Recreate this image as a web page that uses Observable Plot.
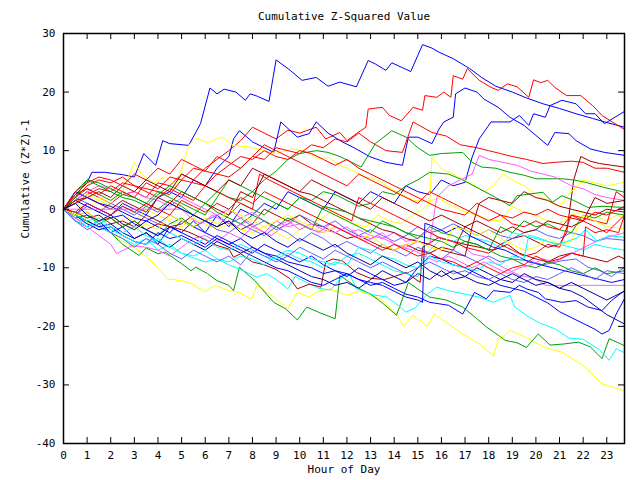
<!DOCTYPE html>
<html>
<head>
<meta charset="utf-8">
<script src="https://cdn.jsdelivr.net/npm/d3@7"></script>
<script src="https://cdn.jsdelivr.net/npm/@observablehq/plot@0.6"></script>
<style>
  html, body { margin: 0; padding: 0; background: #ffffff; }
  #chart svg { display: block; }
</style>
</head>
<body>
<div id="chart"></div>
<script>
// ---- Labels and ticks ----
const titleText = "Cumulative Z-Squared Value";
const xLabel = "Hour of Day";
const yLabel = "Cumulative (Z*Z)-1";
const xTicks = [0,1,2,3,4,5,6,7,8,9,10,11,12,13,14,15,16,17,18,19,20,21,22,23];
const yTicks = [-40,-30,-20,-10,0,10,20,30];

// ---- Colours ----
const BLUE = "#0000ff", DKBLUE = "#0000a0", PERI = "#6060ff", RED = "#ff0000", DKRED = "#a00000",
      GREEN = "#00a000", YELLOW = "#ffff00", MAGENTA = "#ff5aff", CYAN = "#00ffff";

// ---- Series: [hour, cumulative value] ----
const s01 = [[0,0],[0.5,2.5],[1,4.5],[1.2,6.3],[1.75,6.3],[2.5,5.9],[3,5.5],[3.4,9.5],[3.9,7.5],[4.2,11.7],[4.5,11.2],[5.3,10.9],[5.8,14.6],[6.2,20.7],[6.5,19.7],[6.8,20.5],[7.3,20],[7.7,18.6],[7.9,19.7],[8.2,19.3],[8.7,18.4],[9,25.5],[9.6,23.7],[10.1,22],[10.7,22.5],[11.2,21],[11.7,21.7],[12.4,20.9],[12.9,25.4],[13.2,24.8],[13.65,23.7],[13.9,25],[14.7,23.5],[15.2,28.1],[15.6,27.5],[15.9,26.8],[16.5,25.7],[17.2,24],[17.7,22.5],[18.3,21],[19,20],[19.6,19],[20.3,18],[21,17.2],[21.7,16.3],[22.4,15.5],[23,14.8],[23.75,14]];
const s02 = [[0,0],[0.5,1.5],[1,3],[1.5,2],[2,1],[2.5,2.5],[3,3],[3.5,2],[4,4.5],[4.5,4],[5,6],[5.5,5],[6,7],[6.5,8.5],[7,10],[7.5,11.7],[8,14],[8.5,13],[9,12],[9.5,13.5],[10,13],[10.7,14],[11.1,12],[11.7,13.1],[12,11.7],[12.4,12.9],[12.8,14],[12.9,17.1],[13.5,17.4],[13.8,16],[14.3,15.1],[14.8,17.4],[15.2,16.9],[15.3,19.4],[15.8,19.1],[16.1,20],[16.4,19.1],[16.5,22.8],[16.9,22.2],[17.1,24],[17.6,22],[18.1,20.8],[18.4,20.3],[18.8,21.4],[19.2,20.9],[19.7,19.1],[19.9,22.1],[20.2,21.6],[20.5,22],[20.8,20.8],[21.3,19.4],[21.9,19.4],[22.4,17.7],[22.8,16],[23.75,13.6]];
const s03 = [[0,0],[0.5,-1],[1,1],[1.5,0],[2,-1],[2.5,1],[3,0],[3.5,-1],[4,2],[4.5,3],[5,2],[5.5,5],[6,4],[6.5,7],[7,9],[7.2,12],[7.45,13.4],[8,11.5],[8.9,9.7],[9.2,14.9],[9.9,12.3],[10.4,12.9],[10.7,14.9],[11.2,13],[11.8,11.5],[12.3,10.5],[12.95,9],[13.65,8],[14.35,7.5],[14.6,12.3],[15,12.3],[15.6,11.2],[15.9,13.7],[16.1,14.9],[16.5,15.7],[16.6,19.7],[17,20.7],[17.5,20],[17.8,18.8],[18.4,17.4],[18.9,15.7],[19.5,14.3],[20,12.6],[20.5,10.9],[20.8,13.1],[21.4,12.9],[21.7,11.7],[22.3,10.3],[22.9,9.7],[23.75,9.2]];
const s04 = [[0,0],[0.5,-2],[1,-3],[1.5,-2],[2,-4],[2.5,-3],[3,-5],[3.5,-4],[4,-6],[4.5,-3],[5,-4],[5.5,-2],[6,-4],[6.5,-1],[7,-3],[7.5,0],[8,-1],[8.5,1],[9,0],[9.5,3],[10,2],[10.5,1],[11,0],[11.5,3],[12,2],[12.5,1],[13,3],[13.5,2],[14,1],[14.5,4],[15,3],[15.5,2.5],[16,5],[16.5,4],[17,4.6],[17.3,8.9],[17.6,12],[18.1,14.9],[18.9,14.9],[19.3,16],[19.7,14.3],[19.9,16.3],[20.4,15.7],[20.6,17.7],[21.1,18.6],[21.7,18],[22.1,16.3],[22.5,16.3],[22.9,14.6],[23.75,16.7]];
const s05 = [[0,0],[0.5,1],[1,0],[1.5,2],[2,1],[2.5,3],[3,8],[3.3,6],[3.8,4.5],[4.3,5.5],[4.8,4],[5.3,10.9],[5.6,12.1],[6.1,11.4],[6.7,12.3],[7.2,10.9],[7.9,10.6],[8.2,10.3],[9,9.5],[9.7,10.3],[10.3,9.8],[10.8,8.6],[11.2,8.9],[11.7,7.5],[12.3,6.5],[12.8,5.5],[13.3,5],[13.65,4],[14.2,2.8],[14.8,1.5],[15.3,1.3],[15.9,1.8],[16.5,0.5],[17,-0.5],[17.5,-1],[18,-1.8],[18.5,-2],[19,0.5],[19.5,-0.5],[20,-1],[20.5,-2],[21,-2.5],[21.5,-1],[22,-0.5],[22.5,-1],[23,-2],[23.4,-1],[23.75,-1.5]];
const s06 = [[0,0],[0.5,-1],[1,-2.2],[1.5,-3],[2,-4],[2.5,-5.5],[3,-6.5],[3.7,-8.8],[4.4,-11.9],[5,-12.2],[5.4,-12.7],[6,-14.1],[6.4,-13],[7,-13.9],[7.45,-14.2],[7.95,-15.4],[8.2,-13],[8.9,-15],[9.5,-17],[9.9,-14.2],[10.4,-15],[10.8,-14],[11.3,-13.6],[12,-14.7],[12.5,-14],[13,-14.6],[13.5,-15.5],[14.1,-17.9],[14.4,-20],[14.8,-18.1],[15.4,-20],[15.7,-17.9],[16.3,-19.6],[16.9,-21.3],[17.6,-23],[18.2,-25],[18.4,-22.4],[18.9,-20.7],[19.6,-21.9],[20.3,-23.5],[21.1,-24.4],[22,-26.7],[22.8,-29.8],[23.75,-31]];
const s07 = [[0,0],[0.5,-1],[1,-2],[1.5,-3],[2,-4],[2.5,-6],[3.2,-7.9],[3.5,-6.6],[4,-7.6],[4.3,-7.3],[5,-9.3],[5.4,-10.5],[5.6,-9.9],[6.1,-11],[6.5,-12.2],[7,-13],[7.2,-13.9],[7.45,-9.9],[8.1,-12.2],[8.9,-15.9],[9.4,-17],[9.9,-18.9],[10.3,-16.7],[10.8,-17.6],[11.5,-18.7],[11.7,-11.3],[12.4,-13.3],[13,-14.5],[13.5,-16],[14.1,-18.1],[14.6,-12.5],[15.1,-13.9],[15.5,-15],[16.2,-15.5],[16.9,-16.7],[17.5,-18.7],[17.9,-20.1],[18.4,-21.5],[18.7,-22.4],[19.2,-22.8],[19.6,-23.6],[20.1,-21.3],[20.6,-23.2],[21.2,-23],[21.8,-22.7],[22.3,-23.5],[22.8,-25.5],[23.1,-22.1],[23.75,-23.3]];
const s08 = [[0,0],[0.5,-1.5],[1,-2.5],[1.5,-3],[2,-4],[2.5,-5],[3,-6],[3.5,-5],[4,-7],[4.5,-6],[5,-7.5],[5.4,-8.2],[6,-9],[6.5,-8.5],[7,-9.5],[7.45,-10.2],[8.2,-11.6],[8.6,-11],[9,-12],[9.5,-13.6],[9.8,-11.5],[10.3,-12.5],[10.8,-13.5],[11.3,-13.8],[11.8,-11.5],[12.1,-11],[12.4,-13.6],[13.1,-14.6],[13.7,-15],[14.2,-16.5],[14.5,-17.6],[14.9,-16.8],[15.4,-14.5],[15.8,-13.3],[16.3,-13.9],[17,-14.5],[17.6,-15],[18.2,-15.9],[18.9,-14.7],[19.1,-16.7],[19.7,-18.4],[20.2,-19.5],[20.8,-20.4],[21.4,-22],[22,-22.2],[22.7,-24],[23.1,-25.8],[23.4,-23.8],[23.75,-24.5]];
const s09 = [[0,0],[0.5,-1],[1,-0.5],[1.5,-2],[2,-1.5],[2.5,-3],[3,-2],[3.5,-3.5],[4,-2.5],[4.5,-3],[5,-3.5],[5.3,-3.9],[6,-5.2],[6.5,-6.2],[7,-6.8],[7.2,-8.2],[7.5,-7.6],[8,-9],[8.5,-9.5],[9,-10.3],[9.6,-11.9],[9.9,-13.6],[10.4,-12.8],[10.9,-13.3],[11.1,-9],[11.4,-8.5],[11.8,-8.8],[12.4,-10.8],[13,-11.8],[13.6,-12],[14,-11.5],[14.5,-10.8],[15.1,-12.5],[15.2,-6.5],[15.9,-4.8],[16.5,-5.5],[17,-6],[17.6,-6.5],[18.2,-7],[18.8,-6],[19.3,-7.5],[20,-8.5],[20.5,-9],[21,-8],[21.5,-7.5],[22,-8],[22.5,-8.5],[23,-9],[23.5,-8],[23.75,-8.5]];
const s10 = [[0,0],[0.5,1],[1,2.5],[1.5,3.5],[2,3],[2.5,4.5],[3,4],[3.5,3.5],[4,3],[4.5,2.5],[5,5],[5.5,4.5],[6,4],[6.5,6],[7,5.5],[7.5,7],[8,9],[8.5,8.5],[9,10.5],[9.5,10],[10,9.5],[10.5,11],[11,10.5],[11.5,12],[12,11.5],[12.5,13],[13,11.5],[13.65,10],[14.35,9.7],[14.8,14.9],[15.6,13.1],[16.2,12.5],[16.8,11],[17.5,10.5],[18,10],[18.5,9.5],[19,9],[19.6,8.5],[20.3,7.8],[20.8,8],[21.5,8.2],[22,8],[22.5,7],[23,7],[23.75,6.3]];
const s11 = [[0,0],[0.5,-0.5],[1,-1.5],[1.5,-1],[2,-2.5],[2.5,-2],[3,-3],[3.5,-1],[4,-2],[4.5,-3],[5,-2.5],[5.5,-1],[6,-2],[6.5,-3],[7,-2],[7.5,-3.5],[8,-2.5],[8.5,0],[9,-1],[9.5,-2],[10,-1],[10.5,-2.5],[11,-3],[11.5,-4],[12,-5],[12.5,-4.5],[13,-5.5],[13.5,-6.5],[14,-7],[14.5,-6],[15,-7],[15.5,-7.5],[16,-6.5],[16.5,-7],[17,-3],[17.5,-4],[18,-5],[18.5,-6],[19,-5],[19.5,-4.5],[20,-5.5],[20.5,-6.5],[21,-6],[21.3,-4],[21.6,5],[21.9,9],[22.3,8.2],[22.7,7.8],[23.2,7.5],[23.75,7.2]];
const s12 = [[0,0],[0.5,1],[1,2.5],[1.5,1.5],[2,0.5],[2.5,-1],[3,-2],[3.5,0],[4,-1],[4.5,-2],[5,-3],[5.5,-1.5],[6,-2.5],[6.5,-3.5],[7,-2.5],[7.5,-3.5],[8,-4],[8.5,-3],[9,-4],[9.5,-5],[10,-3.5],[10.5,-2.5],[11,-1.5],[11.3,-0.5],[11.8,-1.5],[12.3,-2.5],[12.8,-3],[13.3,-1],[13.8,-2],[14.3,-2.5],[14.8,-1],[15.2,0],[15.5,1],[15.6,8.9],[16,6.9],[16.9,5.2],[17.4,4],[17.8,3],[18.2,4],[18.6,6],[19,5],[19.5,4],[20,2.5],[20.5,1.5],[21,0.5],[21.5,3],[22,5],[22.5,4.5],[23,4],[23.75,4.6]];
const s13 = [[0,0],[0.5,2],[1,3.5],[1.5,2.5],[2,1.5],[2.5,3],[3,2],[3.5,1],[4,0],[4.5,1.5],[5,0.5],[5.5,-1],[6,1],[6.5,3],[7,2],[7.5,1.5],[8,3],[8.5,5],[9,6.5],[9.5,8.5],[10,9.5],[10.7,10],[11.2,9.7],[11.7,9],[12.2,8],[12.6,7.2],[13.2,11.2],[13.9,13.4],[14.5,12.3],[15,10.5],[15.5,9.2],[16,9.5],[16.9,9.7],[17.3,8],[17.7,7.2],[18.3,7],[18.9,6.3],[19.5,5.8],[20,5.2],[21.1,5.2],[21.6,5],[22.1,4.6],[22.8,3.8],[23.75,2.9]];
const s14 = [[0,0],[0.5,-1.5],[1,-1],[1.5,-2.5],[2,-1.5],[2.5,-3],[3,-2],[3.5,-3.5],[4,-4.5],[4.5,-2.5],[5,-1.5],[5.5,-3],[6,-2],[6.5,-3],[7,-1],[7.5,1],[8,0],[8.5,-1],[9,1],[9.5,0],[10,2],[10.5,1.5],[11,3],[11.5,2.5],[12,1.5],[12.5,0.5],[13,1],[13.5,3],[14,2.5],[14.5,4],[15,5],[15.5,6.3],[16.3,6],[16.9,5],[17.6,3.5],[18.3,2],[18.9,0.6],[19.2,2.3],[20.3,2.9],[20.7,1.2],[21.1,2.3],[21.6,1.5],[22.2,0.3],[22.8,0.5],[23.75,0.3]];
const s15 = [[0,0],[0.5,-1],[1,0.5],[1.5,-0.5],[2,1],[2.5,0],[3,-1],[3.5,0.5],[4,-0.5],[4.5,1],[5,0],[5.5,-1],[6,-2],[6.5,-1],[7,-2.5],[7.5,-1.5],[8,-3],[8.5,-2],[9,-3.5],[9.5,-2.5],[10,-1],[10.5,-2],[11,-3],[11.5,-2],[12,-3.5],[12.5,-4.5],[13,-3.5],[13.5,-4.5],[14,-5.5],[14.5,-4.5],[15,-3],[15.5,-4],[16,-3.5],[16.5,-2.5],[17,-3.5],[17.5,-4.5],[18,-3.5],[18.5,-4.5],[19,-5],[19.5,-4],[20,-3.5],[20.5,-4.5],[21,-5],[21.5,-4],[22,-4.5],[22.5,-5.5],[23,-5],[23.75,-5.3]];
const s16 = [[0,0],[0.5,2],[1,1],[1.5,0],[2,-1],[2.5,0.5],[3,-0.5],[3.5,-1.5],[4,-2.5],[4.5,-1],[5,-2],[5.5,-3],[6,-2],[6.5,-3.5],[7,-4],[7.5,-2.5],[8,-3.5],[8.5,-4.5],[9,-3],[9.5,-4],[10,-5.5],[10.5,-4],[11,-5],[11.5,-6.5],[12,-5.5],[12.5,-6.5],[13,-7.5],[13.5,-6],[14,-7],[14.5,-8],[15,-6.5],[15.5,-7.5],[16,-8.5],[16.5,-7],[17,-8],[17.5,-9],[18,-8],[18.5,-9],[19,-8.5],[19.7,-8.8],[20.3,-9.5],[21.1,-8.8],[21.7,-8.5],[22.2,-9.9],[22.7,-10.5],[23.2,-11.5],[23.75,-9.9]];
const s17 = [[0,0],[0.5,-1.5],[1,-3],[1.5,-4.5],[2,-6],[2.25,-7.6],[2.9,-6.2],[3.5,-6.5],[4,-7],[4.5,-8],[5,-6.5],[5.5,-5],[6,-4.5],[6.5,-5.5],[7,-4],[7.5,-5],[8,-3],[8.5,-4],[9,-2],[9.5,-3],[10,-2.5],[10.5,-3.5],[11,-4],[11.5,-3],[12,-4],[12.5,-3.5],[13,-4.5],[13.5,-5],[14,-4],[14.5,-5.5],[15,-5],[15.5,-3.5],[15.8,-4.8],[16.3,-5.3],[16.9,-6.2],[17.3,-7.6],[17.9,-8.2],[18.3,-9.3],[18.9,-10.5],[19.3,-11.3],[19.7,-11.6],[20.1,-12.2],[20.4,-13],[23.75,-13]];
const s18 = [[0,0],[0.5,-1],[1,-2.5],[1.5,-3.5],[2,-3],[2.5,-4.5],[3,-5.5],[3.5,-6],[4,-4],[4.5,-5],[5,-4.5],[5.5,-5.5],[6,-6.5],[6.5,-5],[7,-6],[7.5,-7],[8,-8],[8.5,-9],[9,-10],[9.5,-10.5],[10,-11.5],[10.5,-12.5],[11,-13],[11.5,-12],[12,-11],[12.5,-12],[13,-13],[13.5,-12.5],[14,-13.5],[14.5,-14.5],[15,-15],[15.5,-15.9],[16.3,-16.4],[16.9,-17.9],[17.4,-14.2],[17.9,-15.3],[18.2,-13.9],[18.9,-14.2],[19.3,-13],[19.6,-13.6],[20.1,-14.2],[20.4,-15.3],[21.1,-15.9],[21.7,-15.6],[22.2,-16.7],[22.8,-17.3],[23.2,-15.6],[23.75,-13.9]];
const s19 = [[0,0],[0.5,1.5],[1,0.5],[1.5,-0.5],[2,-1.5],[2.5,-1],[3,-2.5],[3.5,-3.5],[4,-4.5],[4.5,-3],[5,-4],[5.5,-5],[6,-6],[6.5,-4.5],[7,-5.5],[7.5,-6.5],[8,-7.5],[8.5,-6],[9,-7],[9.5,-8],[10,-9],[10.5,-8],[11,-9.5],[11.5,-10.5],[12,-11.5],[12.5,-10],[13,-11],[13.5,-12],[14,-13],[14.5,-12.5],[15,-10],[15.5,-8],[16,-8.5],[16.5,-9.5],[17,-10],[17.5,-11],[18,-12],[18.5,-13],[19,-13.5],[19.5,-14],[20,-15],[20.5,-16],[21,-17.5],[21.5,-18.5],[22,-19.5],[22.5,-20.5],[22.8,-21.3],[23.1,-20.7],[23.4,-17.9],[23.75,-15.3]];
const s20 = [[0,0],[0.5,-1],[1,-2],[1.5,-3],[2,-2.5],[2.5,-4],[3,-5],[3.5,-4],[4,-5.5],[4.5,-6.5],[5,-5],[5.5,-6],[6,-7],[6.5,-5.5],[7,-6.5],[7.5,-7.5],[8,-6.5],[8.5,-7.5],[9,-8.5],[9.5,-9.5],[10,-10.5],[10.5,-11.5],[11,-12],[11.5,-13],[12,-12.5],[12.5,-13.5],[13,-12],[13.5,-10.5],[14,-11.5],[14.5,-12.5],[15,-11],[15.5,-12],[16,-10.5],[16.5,-12],[17,-11.5],[17.5,-10],[18,-11],[18.5,-12],[19,-12.5],[19.5,-11],[20,-12],[20.5,-12.5],[21,-13.5],[21.5,-14],[22,-15],[22.5,-16.5],[23,-18],[23.75,-19.6]];
const s21 = [[0,0],[0.5,1.5],[1,3],[1.5,4],[2,3.5],[2.5,2.5],[3,3],[3.5,2],[4,1.5],[4.5,0.5],[5,2],[5.5,1],[6,0],[6.5,-1],[7,0],[7.5,-1.5],[8,-0.5],[8.5,-2],[9,-3],[9.5,-2],[10,-3.5],[10.5,-2.5],[11,-3.5],[11.5,-4],[12,-3],[12.5,-4.5],[13,-5],[13.5,-4],[14,-6],[14.5,-6.5],[15,-5.5],[15.5,-6],[15.8,2],[16.3,4],[16.8,5],[17.3,6],[17.6,9.2],[18,8.5],[18.6,8],[19.2,7.5],[19.8,6.5],[20.3,6],[20.8,5.5],[21.5,4],[22,3.5],[22.5,2.5],[23,2],[23.75,1.5]];
const s22 = [[0,0],[0.5,-1],[1,-2],[1.5,-1.5],[2,-3],[2.5,-4],[3,-3],[3.5,-4.5],[4,-5.5],[4.5,-4],[5,-5],[5.5,-6],[6,-5],[6.5,-6.5],[7,-7],[7.5,-6],[8,-7],[8.5,-8],[9,-8.5],[9.5,-7.5],[10,-8.5],[10.5,-9],[11,-10],[11.5,-9],[12,-9.5],[12.5,-6.5],[13,-7],[13.5,-8],[14,-8.5],[14.5,-9.5],[15,-10],[15.5,-7],[16,-5],[16.5,-5.5],[17,-4.5],[17.5,-5],[18,-5.5],[18.5,-6.5],[19,-4],[19.5,-4.5],[20,-5],[20.5,-5.5],[21,-6],[21.5,-6.5],[22,-7],[22.5,-6],[23,-6.5],[23.75,-7]];
const s23 = [[0,0],[0.5,2],[1,4],[1.5,5],[2,4.5],[2.5,5.5],[3,4],[3.5,3],[4,2],[4.5,3.5],[5,2.5],[5.5,1.5],[6,4],[6.5,3],[7,2],[7.5,1],[8,0],[8.3,6],[8.7,5],[9.2,4],[9.7,3],[10.2,2],[10.7,1],[11.2,0],[11.7,-1],[12.2,-2],[12.5,2],[13,1],[13.5,0],[14,-1],[14.5,-2],[15,-3],[15.5,-4],[16,-5],[16.5,-5.5],[17,-6.5],[17.5,-7],[18,-7.5],[18.5,-6],[19,-7],[19.5,-8],[20,-7.5],[20.5,-6],[21,-6.5],[21.5,-1],[22,-1.5],[22.5,-2],[23,-2.5],[23.4,3],[23.75,2]];
const s24 = [[0,0],[0.5,1],[1,2],[1.5,1],[2,0],[2.5,1.5],[3,0.5],[3.5,-0.5],[4,2],[4.5,1],[5,3],[5.5,2],[6,1],[6.5,0],[7,-1],[7.5,3],[8,2],[8.5,6],[9,5],[9.5,4],[10,3],[10.5,2.5],[11,1.5],[11.5,0.5],[12,-0.5],[12.5,-1.5],[13,-2.5],[13.5,-3.5],[14,-4],[14.5,-5],[15,-5.5],[15.5,-6],[16,-7],[16.5,-7.5],[17,-8],[17.3,-3],[17.6,1],[18,2],[18.5,1.5],[19,1],[19.5,3],[20,2],[20.5,1.5],[21,0.5],[21.5,0],[22,-0.5],[22.5,-1],[23,0],[23.75,-0.5]];
const s25 = [[0,0],[0.5,3],[1,5],[1.5,4],[2,3],[2.5,2],[3,1.5],[3.5,0.5],[4,2.5],[4.5,4],[5,3],[5.5,2],[6,1],[6.5,-0.5],[7,-1.5],[7.5,-2.5],[8,-1],[8.5,-2],[9,-3],[9.5,-1.5],[10,-2.5],[10.5,-3.5],[11,0.5],[11.5,0],[12,-0.5],[12.5,-1.5],[13,-2],[13.5,-2.5],[14,-3],[14.5,-4],[15,-4.5],[15.5,-5],[16,-5.5],[16.5,-6.5],[17,-5.5],[17.5,-6],[18,-7],[18.5,-3],[19,-4],[19.5,-2],[20,-3],[20.5,-2.5],[21,-3.5],[21.5,-4],[22,-1],[22.5,-1.5],[23,-0.5],[23.75,-1]];
const s26 = [[0,0],[0.5,3],[1,2],[1.5,1],[2,0.5],[2.5,-0.5],[3,-1.5],[3.5,-2],[4,-3],[4.5,-4],[5,-2],[5.5,-3],[6,-4],[6.5,-5],[7,-6],[7.5,-5],[8,-6.5],[8.5,-7.5],[9,-8],[9.5,-9],[10,-9.5],[10.5,-10],[11,-11],[11.5,-10.5],[12,-11],[12.5,-12],[13,-12.5],[13.5,-13],[14,-14],[14.5,-15],[15,-15.5],[15.2,-15.9],[15.3,-2.4],[15.7,-3],[16.2,-4],[16.7,-3],[17.2,-4.5],[17.7,-5.5],[18.2,-6.5],[18.7,-7],[19.2,-8],[19.7,-9],[20.2,-9.5],[20.7,-10],[21.2,-10.5],[21.7,-11],[22.2,-11.5],[22.7,-12],[23.2,-12.5],[23.75,-12]];
const s27 = [[0,0],[0.5,-1],[1,-0.5],[1.5,-2],[2,-1],[2.5,-2.5],[3,-3.5],[3.5,-2.5],[4,-3.5],[4.5,-1],[5,-2],[5.5,-3],[6,-1.5],[6.5,-2.5],[7,0],[7.5,-1],[8,-2],[8.5,-3],[9,-2],[9.5,-1],[10,-2],[10.5,-3],[11,-4],[11.5,-3],[12,-4],[12.5,-5],[13,-4.5],[13.5,-6],[14,-7],[14.5,-6],[15,-5.5],[15.5,-6.5],[16,-7],[16.5,-3],[17,-3.5],[17.5,-4.5],[18,-3.5],[18.5,-5],[19,-6],[19.5,-7],[20,-6.5],[20.5,-5],[21,-6],[21.5,-5.5],[22,-1],[22.5,-2],[23,-3],[23.75,-3.3]];
const s28 = [[0,0],[0.5,2.5],[1,3.5],[1.5,2.5],[2,4],[2.5,3],[3,2],[3.5,4.5],[4,3.5],[4.5,5.5],[5,5],[5.5,7],[6,6.5],[6.5,6],[7,7.5],[7.5,9],[8,8.5],[8.5,10],[9,9],[9.5,8.5],[10,10],[10.5,9.5],[11,8.5],[11.5,7.5],[12,8.5],[12.5,7],[13,6],[13.5,5],[14,4],[14.5,3],[15,2],[15.5,1],[16,0],[16.5,-0.5],[17,-1],[17.5,1],[18,0],[18.5,-1],[19,-1.5],[19.5,-0.5],[20,-1],[20.5,0],[21,-1],[21.5,-1.5],[22,-2],[22.5,-0.5],[23,-1],[23.75,0.5]];
const s29 = [[0,0],[0.5,2],[1,5],[1.5,4.5],[2,3.5],[2.5,2.5],[3,2],[3.5,1],[4,3],[4.5,2],[5,1],[5.5,0],[6,-1],[6.5,2],[7,5],[7.5,4],[8,3],[8.5,2],[9,1],[9.5,0],[10,2],[10.5,1],[11,0],[11.5,-1],[12,-2],[12.5,-3],[13,-4],[13.5,-2],[14,-3],[14.5,-4],[15,-5],[15.5,-3],[16,-4],[16.5,-4.5],[17,-5.5],[17.5,-6],[18,-7],[18.5,-8],[19,-8.5],[19.5,-9.5],[20,-10],[20.5,-9],[21,-9.5],[21.5,-10.5],[22,-11],[22.5,-10],[23,-11],[23.75,-10.5]];
const s30 = [[0,0],[5,0],[5.4,-1.5],[5.8,-2.5],[6.3,-1],[6.8,-2],[7.3,-3],[7.8,-2],[8.3,-3.5],[8.8,-4.5],[9.3,-3],[9.8,-2],[10.3,-3],[10.8,-4],[11.3,-2.5],[11.8,-3.5],[12.3,-4.5],[12.8,-5.5],[13.3,-4.5],[13.8,-5.5],[14.3,-6.5],[14.8,-7],[15.3,-8],[15.8,-9],[16.3,-8],[16.8,-9],[17.3,-10],[17.8,-9],[18.3,-10],[18.8,-11],[19.3,-10],[19.8,-9.5],[20.3,-8.5],[20.8,-9],[21.3,-8],[21.8,-7],[22.3,-6],[22.8,-5],[23.3,-4.5],[23.75,-4]];
const s31 = [[0,0],[0.5,-2],[1,-3],[1.5,-2],[2,-3.5],[2.5,-4.5],[3,-5.5],[3.5,-6],[4,-5],[4.5,-6.5],[5,-7.5],[5.5,-8],[6,-7],[6.5,-8.5],[7,-9],[7.5,-8],[8,-8.5],[8.5,-9.5],[9,-8],[9.5,-7],[10,-7.5],[10.5,-8.5],[11,-9],[11.5,-9.5],[12,-8],[12.5,-7.5],[13,-8.5],[13.5,-9.5],[14,-10.5],[14.5,-11],[15,-11.5],[15.5,-8],[16,-9],[16.5,-9.5],[17,-10],[17.5,-10.5],[18,-9],[18.5,-9.5],[19,-8],[19.5,-8.4],[19.7,-4.4],[20.2,-5],[20.8,-6],[21.3,-5.5],[21.7,-5],[22.1,-3.5],[22.6,-5.5],[23.1,-4.5],[23.75,-4.8]];
const s32 = [[0,0],[0.5,3],[1,4.5],[1.5,5.5],[2,5],[2.5,4],[3,6],[3.5,5],[4,7],[4.5,6],[5,8.5],[5.5,7.5],[6,6.5],[6.5,9],[7,8],[7.5,7],[8,9],[8.5,11],[9,10],[9.5,9],[10,8],[10.5,7],[11,6],[11.5,5],[12,4],[12.5,6],[13,5],[13.5,4],[14,3],[14.5,2],[15,1],[15.5,3],[16,2],[16.5,1],[17,0],[17.5,-1],[18,-2],[18.5,-1],[19,-2.5],[19.5,-3],[20,-2],[20.5,-3],[21,-3.5],[21.5,-1],[22,-2],[22.5,-3],[23,-4],[23.75,-1]];
const s33 = [[0,0],[0.5,1.5],[1,2],[1.5,3],[2,2],[2.5,4],[3,3],[3.5,5],[4,4],[4.5,3],[5,6],[5.5,5],[6,4],[6.5,3],[7,5],[7.5,4],[8,7],[8.5,6],[9,5],[9.5,4],[10,3],[10.5,5],[11,4],[11.5,3],[12,2],[12.5,1],[13,0],[13.5,2],[14,1],[14.5,0],[15,-1],[15.5,-2],[16,-1],[16.5,-2],[17,-3],[17.5,-2],[18,-3],[18.5,-4],[19,-3],[19.5,-4],[20,-3.5],[20.5,-2],[21,-2.5],[21.5,-3],[22,-2],[22.5,2],[23,1],[23.75,1.5]];
const s34 = [[0,0],[0.5,-2],[1,-3.5],[1.5,-2.5],[2,-4],[2.5,-5],[3,-6.5],[3.5,-5],[4,-6],[4.5,-7.5],[5,-8.5],[5.5,-7],[6,-8],[6.5,-9],[7,-8],[7.5,-9.5],[8,-7],[8.5,-8],[9,-9],[9.5,-8],[10,-6.5],[10.5,-7.5],[11,-8.5],[11.5,-7],[12,-8],[12.5,-9],[13,-10],[13.5,-9],[14,-10],[14.5,-11],[15,-10],[15.5,-9],[16,-10],[16.5,-11],[17,-10.5],[17.5,-11.5],[18,-12],[18.5,-11],[19,-12],[19.5,-12.5],[20,-11.5],[20.5,-12],[21,-11],[21.5,-10],[22,-11],[22.5,-12],[23,-10.5],[23.75,-11]];
const s35 = [[0,0],[0.5,1],[1,-1],[1.5,-2],[2,-1],[2.5,-2.5],[3,-3.5],[3.5,-2],[4,-1],[4.5,1],[5,0],[5.5,-1],[6,-2],[6.5,-3],[7,-2],[7.5,-4],[8,-5],[8.5,-4],[9,-5.5],[9.5,-6.5],[10,-5],[10.5,-6],[11,-7],[11.5,-6],[12,-7.5],[12.5,-8.5],[13,-9.5],[13.5,-8],[14,-9],[14.5,-10],[15,-9],[15.5,-10.5],[16,-11.5],[16.5,-10.5],[17,-11.5],[17.5,-12.5],[18,-13],[18.5,-12],[19,-11],[19.5,-12],[20,-13],[20.5,-12.5],[21,-13.5],[21.5,-12.5],[22,-13.5],[22.5,-14.5],[23,-15.5],[23.75,-14]];
const s36 = [[0,0],[0.5,-0.5],[1,1],[1.5,0],[2,-1],[2.5,0.5],[3,-0.5],[3.5,1],[4,0],[4.5,-1],[5,1.5],[5.5,0.5],[6,-0.5],[6.5,1],[7,0],[7.5,2],[8,1],[8.5,3],[9,2],[9.5,1],[10,0],[10.5,-1],[11,-2],[11.5,-3],[12,-4],[12.5,-5],[13,-6],[13.5,-7],[14,-6],[14.5,-7],[15,-8],[15.5,-7.5],[16,-8.5],[16.5,-9],[17,-10],[17.5,-9],[18,-10],[18.5,-11],[19,-10],[19.5,-9.5],[20,-8],[20.5,-9],[21,-8.5],[21.5,-7.5],[22,-8],[22.1,-3],[22.5,-4],[23,-3.5],[23.5,-4],[23.75,-1]];

const seriesIds    = ["s01","s02","s03","s04","s05","s06","s07","s08","s09","s10","s11","s12","s13","s14","s15","s16","s17","s18","s19","s20","s21","s22","s23","s24","s25","s26","s27","s28","s29","s30","s31","s32","s33","s34","s35","s36"];
const seriesColors = [BLUE,RED,BLUE,BLUE,YELLOW,YELLOW,GREEN,CYAN,DKRED,RED,DKRED,YELLOW,GREEN,GREEN,PERI,PERI,MAGENTA,BLUE,BLUE,DKBLUE,MAGENTA,CYAN,RED,DKRED,GREEN,BLUE,YELLOW,RED,GREEN,MAGENTA,CYAN,RED,DKRED,PERI,DKBLUE,RED];
const seriesData   = [s01,s02,s03,s04,s05,s06,s07,s08,s09,s10,s11,s12,s13,s14,s15,s16,s17,s18,s19,s20,s21,s22,s23,s24,s25,s26,s27,s28,s29,s30,s31,s32,s33,s34,s35,s36];

const rows = seriesData.flatMap((pts, i) =>
  pts.map(([h, v]) => ({id: seriesIds[i], color: seriesColors[i], h, v})));

const W = 640, H = 480, mL = 63, mR = 16, mT = 33, mB = 37;
const innerW = W - mL - mR, innerH = H - mT - mB, tick = 6;

const chart = Plot.plot({
  width: W, height: H,
  marginLeft: mL, marginRight: mR, marginTop: mT, marginBottom: mB,
  style: {fontFamily: "'DejaVu Sans Mono', monospace", fontSize: "11px", background: "#ffffff", color: "#000000"},
  x: {domain: [0, 23.75]},
  y: {domain: [-40, 30]},
  color: {type: "identity"},
  marks: [
    Plot.line(rows, {x: "h", y: "v", z: "id", stroke: "color", strokeWidth: 1, curve: "linear"}),
    Plot.ruleX(xTicks, {x: d => d, insetTop: innerH - tick, stroke: "#000"}),
    Plot.ruleX(xTicks, {x: d => d, insetBottom: innerH - tick, stroke: "#000"}),
    Plot.ruleY(yTicks, {y: d => d, insetRight: innerW - tick, stroke: "#000"}),
    Plot.ruleY(yTicks, {y: d => d, insetLeft: innerW - tick, stroke: "#000"}),
    Plot.frame({stroke: "#000", strokeWidth: 1.5}),
    Plot.axisX(xTicks, {tickSize: 0, tickPadding: 8, label: null, tickFormat: d => String(d)}),
    Plot.axisY(yTicks, {tickSize: 0, tickPadding: 8, label: null, tickFormat: d => String(d)}),
    Plot.text([titleText], {frameAnchor: "top", dy: -21, fill: "#000"}),
    Plot.text([xLabel], {frameAnchor: "bottom", dy: 29, fill: "#000"}),
    Plot.text([yLabel], {frameAnchor: "left", dx: -38, rotate: -90, fill: "#000"})
  ]
});
document.getElementById("chart").appendChild(chart);
</script>
</body>
</html>
